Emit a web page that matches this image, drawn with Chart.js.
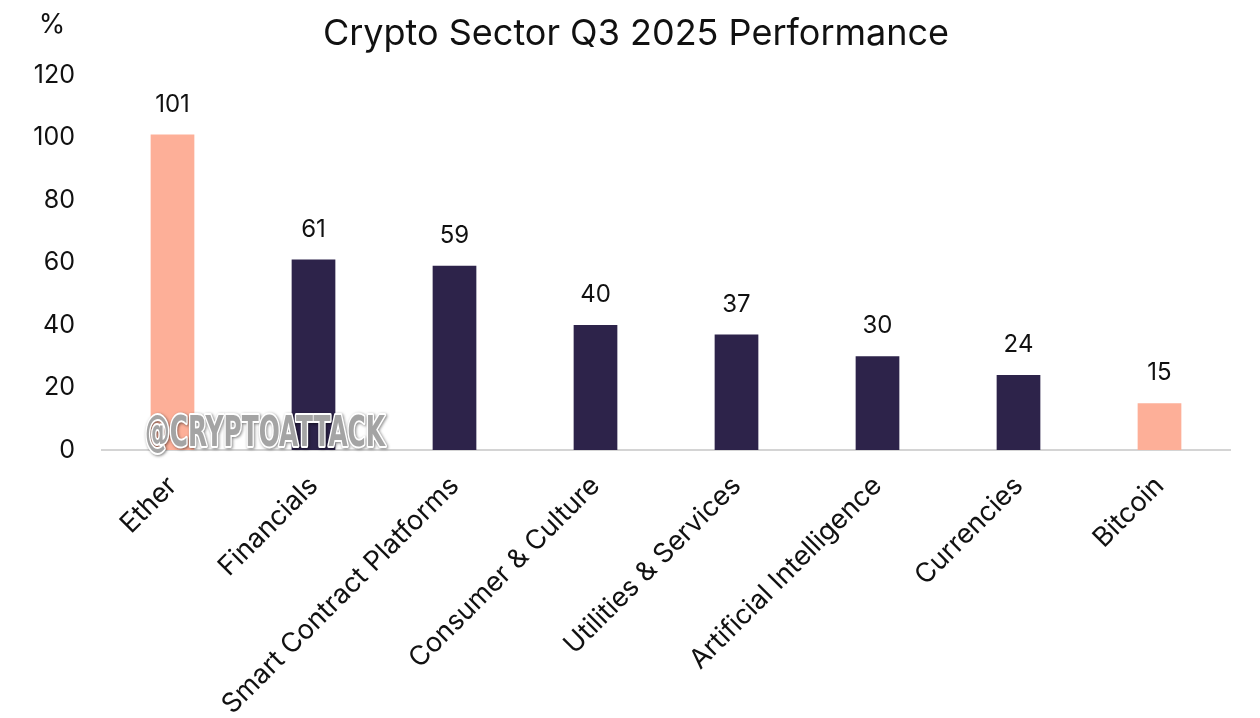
<!DOCTYPE html>
<html>
<head>
<meta charset="utf-8">
<script src="https://cdn.jsdelivr.net/npm/chart.js@4.4.0/dist/chart.umd.min.js"></script>
<style>
html,body{margin:0;padding:0;background:#fff;}
#wrap{width:1260px;height:718px;position:relative;}
</style>
</head>
<body>
<div id="wrap"><canvas id="c" width="1260" height="718"></canvas></div>
<script>
const categories = ["Ether","Financials","Smart Contract Platforms","Consumer & Culture","Utilities & Services","Artificial Intelligence","Currencies","Bitcoin"];
const values = [101,61,59,40,37,30,24,15];
const highlight = [true,false,false,false,false,false,false,true];
const yTicks = [0,20,40,60,80,100,120];
const titleText = "Crypto Sector Q3 2025 Performance";
const unitText = "%";
const watermarkText = "@CRYPTOATTACK";

const FONT = "Inter, 'Noto Sans', sans-serif";
const SALMON = "#FDAF98";
const NAVY = "#2D234A";

const overlay = {
  id: 'overlay',
  afterDatasetsDraw(chart) {
    const ctx = chart.ctx;
    const meta = chart.getDatasetMeta(0);
    ctx.save();
    ctx.fillStyle = "#111";
    ctx.font = "24px " + FONT;
    ctx.textAlign = "center";
    ctx.textBaseline = "middle";
    meta.data.forEach((bar, i) => {
      ctx.fillText(String(values[i]), bar.x, bar.y - 30);
    });
    ctx.restore();
  },
  afterDraw(chart) {
    const ctx = chart.ctx;
    ctx.save();
    // title
    ctx.fillStyle = "#111";
    ctx.font = "36px " + FONT;
    ctx.textAlign = "center";
    ctx.textBaseline = "middle";
    ctx.fillText(titleText, 636, 34);
    // unit
    ctx.font = "27px " + FONT;
    ctx.fillText(unitText, 52, 25);
    // watermark
    ctx.font = "bold 42px 'DejaVu Sans Condensed', 'Liberation Sans Narrow', sans-serif";
    ctx.textAlign = "center";
    ctx.textBaseline = "middle";
    const w = ctx.measureText(watermarkText).width;
    ctx.translate(265, 435);
    ctx.scale(240 / w, 1);
    ctx.lineJoin = "round";
    ctx.shadowColor = "rgba(0,0,0,0.5)";
    ctx.shadowBlur = 3;
    ctx.shadowOffsetX = 1;
    ctx.shadowOffsetY = 1;
    ctx.strokeStyle = "#ffffff";
    ctx.lineWidth = 4;
    ctx.strokeText(watermarkText, 0, 0);
    ctx.shadowColor = "transparent";
    ctx.fillStyle = "#a4a4a4";
    ctx.fillText(watermarkText, 0, 0);
    ctx.restore();
  }
};

new Chart(document.getElementById('c'), {
  type: 'bar',
  data: {
    labels: categories,
    datasets: [{
      data: values,
      backgroundColor: highlight.map(h => h ? SALMON : NAVY),
      borderWidth: 0,
      barPercentage: 0.31,
      categoryPercentage: 1.0
    }]
  },
  options: {
    responsive: false,
    animation: false,
    devicePixelRatio: 1,
    layout: { padding: { top: 75, right: 30, bottom: 0, left: 0 } },
    plugins: { legend: { display: false }, title: { display: false }, tooltip: { enabled: false } },
    scales: {
      x: {
        grid: { display: false, drawTicks: false },
        border: { display: true, color: "#d4d4d4", width: 2 },
        ticks: {
          color: "#111",
          font: { family: FONT, size: 27 },
          maxRotation: 45, minRotation: 45,
          padding: 20,
          autoSkip: false
        },
        afterFit(s) { s.height = 268; }
      },
      y: {
        min: 0, max: 120,
        afterBuildTicks(s) { s.ticks = yTicks.map(v => ({ value: v })); },
        grid: { display: false, drawTicks: false },
        border: { display: false },
        ticks: {
          color: "#111",
          font: { family: FONT, size: 25 },
          padding: 27
        },
        afterFit(s) { s.width = 102; }
      }
    }
  },
  plugins: [overlay]
});
</script>
</body>
</html>
